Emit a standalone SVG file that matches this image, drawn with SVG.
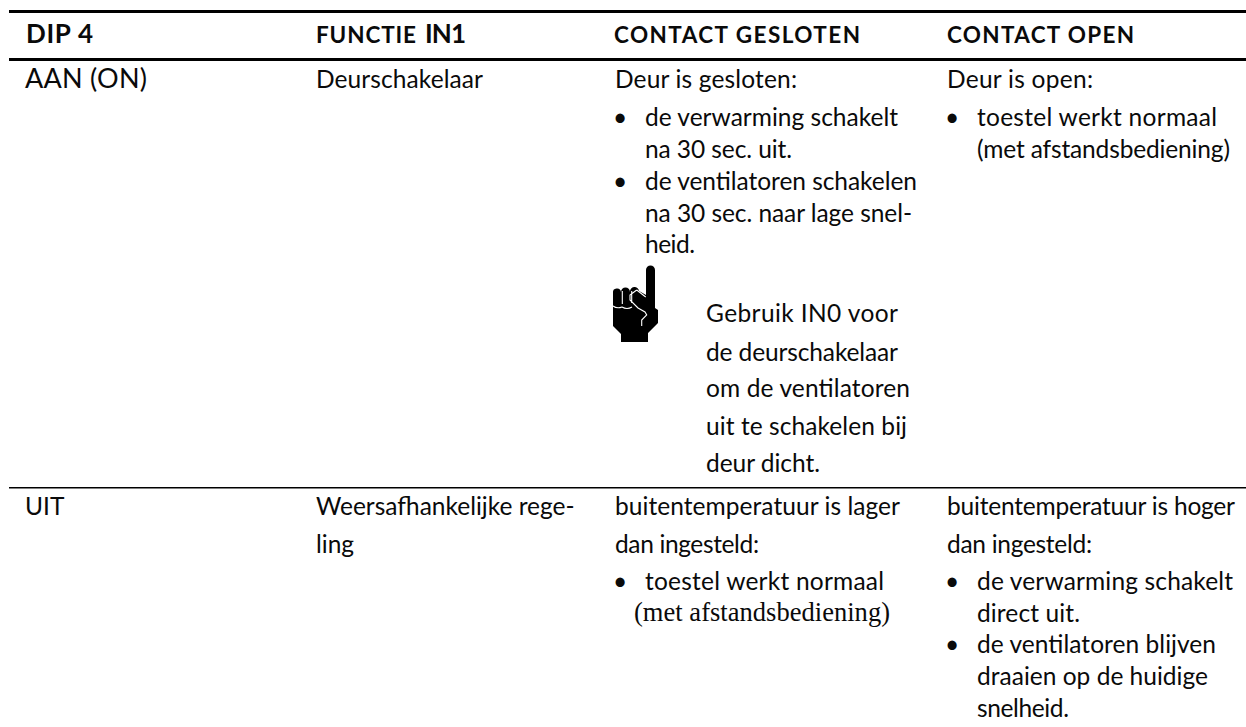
<svg xmlns="http://www.w3.org/2000/svg" width="1246" height="727" viewBox="0 0 1246 727">
<style>
text{font-family:"Lato","Liberation Sans",sans-serif;font-size:24.5px;fill:#0a0a0a}
.h{font-weight:700;font-size:22.5px}
.b{font-weight:700;font-size:26px}
.c{font-size:27px}
.s{font-family:"Liberation Serif",serif;font-size:26.5px}
.r{fill:#000}
.w{fill:none;stroke:#fff;stroke-width:1.1}
</style>
<rect width="1246" height="727" fill="#fff"/>
<g id="rules">
<rect class="r" x="9" y="10" width="1237" height="3"/>
<rect class="r" x="9" y="58" width="1237" height="3"/>
<rect class="r" x="9" y="487" width="1237" height="1.5"/>
</g>
<g id="header">
<text class="b" x="26" y="43" textLength="67">DIP 4</text>
<text class="h" x="316" y="43" textLength="100">FUNCTIE</text>
<text class="b" x="425" y="43" textLength="41">IN1</text>
<text class="h" x="614" y="43" textLength="246">CONTACT GESLOTEN</text>
<text class="h" x="947" y="43" textLength="187">CONTACT OPEN</text>
</g>
<g id="row1">
<text class="c" x="25" y="88" textLength="122">AAN (ON)</text>
<text x="316" y="88" textLength="167">Deurschakelaar</text>
<text x="615" y="88" textLength="182">Deur is gesloten:</text>
<text x="613" y="126">•</text><text x="645" y="126" textLength="253">de verwarming schakelt</text>
<text x="645" y="158" textLength="147">na 30 sec. uit.</text>
<text x="613" y="190">•</text><text x="645" y="190" textLength="272">de ventilatoren schakelen</text>
<text x="645" y="222" textLength="267">na 30 sec. naar lage snel-</text>
<text x="645" y="253" textLength="50">heid.</text>
<text x="947" y="88" textLength="146">Deur is open:</text>
<text x="945" y="126">•</text><text x="977" y="126" textLength="240">toestel werkt normaal</text>
<text x="977" y="158" textLength="253">(met afstandsbediening)</text>
</g>
<g id="hand">
<path d="M646 270a4.500 4.500 0 0 1 9 0v38l3 2v13l-10 10v9h-27v-8l-8-8v-33a4 4 0 0 1 8-1 4.500 4.500 0 0 1 9 0 4.500 4.500 0 0 1 9-1l7 4z" class="r"/>
<path class="w" d="M622.300 291v13M631.700 291v12M613 306q4 3 9 1q5 3 10 0M636.700 290l-6.700 5v5l8 8 7 4 1.700 3-5 5v6M636.700 290l9 7"/>
</g>
<g id="note">
<text x="706" y="322" textLength="192">Gebruik IN0 voor</text>
<text x="706" y="361" textLength="192">de deurschakelaar</text>
<text x="706" y="397" textLength="204">om de ventilatoren</text>
<text x="706" y="435" textLength="201">uit te schakelen bij</text>
<text x="706" y="472" textLength="114">deur dicht.</text>
</g>
<g id="row2">
<text x="25" y="515">UIT</text>
<text x="316" y="515">Weersafhankelijke rege-</text>
<text x="316" y="553">ling</text>
<text x="615" y="515" textLength="285">buitentemperatuur is lager</text>
<text x="615" y="553" textLength="144">dan ingesteld:</text>
<text x="613" y="590">•</text><text x="645" y="590" textLength="239">toestel werkt normaal</text>
<text class="s" x="634" y="621" textLength="256">(met afstandsbediening)</text>
<text x="947" y="515" textLength="288">buitentemperatuur is hoger</text>
<text x="947" y="553" textLength="145">dan ingesteld:</text>
<text x="945" y="590">•</text><text x="977" y="590" textLength="256">de verwarming schakelt</text>
<text x="977" y="622" textLength="103">direct uit.</text>
<text x="945" y="653">•</text><text x="977" y="653" textLength="239">de ventilatoren blijven</text>
<text x="977" y="685" textLength="231">draaien op de huidige</text>
<text x="977" y="717" textLength="92">snelheid.</text>
</g>
</svg>
